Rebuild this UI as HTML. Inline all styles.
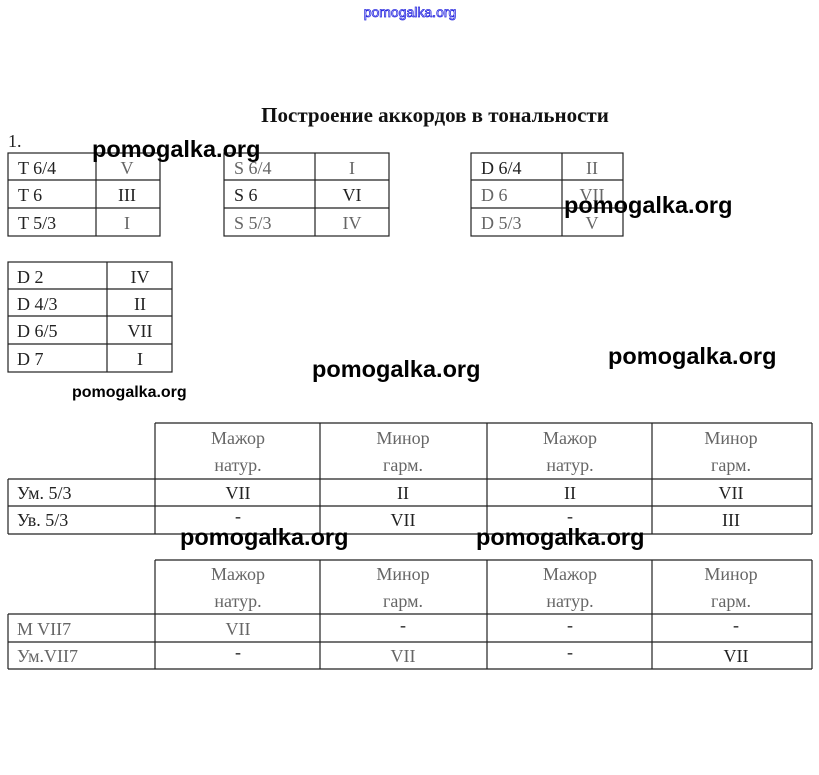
<!DOCTYPE html>
<html><head><meta charset="utf-8"><style>
html,body{margin:0;padding:0;background:#fff;}
svg{display:block}
.t{font-family:"Liberation Serif",serif;font-size:18px;fill:#222}
.g{fill:#666}
.w{font-family:"Liberation Sans","DejaVu Sans",sans-serif;font-size:23.5px;font-weight:bold;fill:#000}
</style></head><body>
<svg width="819" height="775" viewBox="0 0 819 775" xmlns="http://www.w3.org/2000/svg">
<text x="410" y="17" text-anchor="middle" font-family="Liberation Sans,sans-serif" font-size="14" fill="#fff" stroke="#2a2ae0" stroke-width="0.8">pomogalka.org</text>
<text x="435" y="122" text-anchor="middle" font-family="Liberation Serif,serif" font-weight="bold" font-size="21" fill="#111">Построение аккордов в тональности</text>
<text x="8" y="147" class="t">1.</text>
<g stroke="#222" stroke-width="1.2" fill="none">
<rect x="8" y="153" width="152" height="83"/><line x1="8" y1="180" x2="160" y2="180"/><line x1="8" y1="208" x2="160" y2="208"/><line x1="96" y1="153" x2="96" y2="236"/>
<rect x="224" y="153" width="165" height="83"/><line x1="224" y1="180" x2="389" y2="180"/><line x1="224" y1="208" x2="389" y2="208"/><line x1="315" y1="153" x2="315" y2="236"/>
<rect x="471" y="153" width="152" height="83"/><line x1="471" y1="180" x2="623" y2="180"/><line x1="471" y1="208" x2="623" y2="208"/><line x1="562" y1="153" x2="562" y2="236"/>
<rect x="8" y="262" width="164" height="110"/><line x1="8" y1="289" x2="172" y2="289"/><line x1="8" y1="316" x2="172" y2="316"/><line x1="8" y1="344" x2="172" y2="344"/><line x1="107" y1="262" x2="107" y2="372"/>
<line x1="155" y1="423" x2="812" y2="423"/><line x1="8" y1="479" x2="812" y2="479"/><line x1="8" y1="506" x2="812" y2="506"/><line x1="8" y1="534" x2="812" y2="534"/>
<line x1="8" y1="479" x2="8" y2="534"/><line x1="155" y1="423" x2="155" y2="534"/><line x1="320" y1="423" x2="320" y2="534"/><line x1="487" y1="423" x2="487" y2="534"/><line x1="652" y1="423" x2="652" y2="534"/><line x1="812" y1="423" x2="812" y2="534"/>
<line x1="155" y1="560" x2="812" y2="560"/><line x1="8" y1="614" x2="812" y2="614"/><line x1="8" y1="642" x2="812" y2="642"/><line x1="8" y1="669" x2="812" y2="669"/>
<line x1="8" y1="614" x2="8" y2="669"/><line x1="155" y1="560" x2="155" y2="669"/><line x1="320" y1="560" x2="320" y2="669"/><line x1="487" y1="560" x2="487" y2="669"/><line x1="652" y1="560" x2="652" y2="669"/><line x1="812" y1="560" x2="812" y2="669"/>
</g>
<g class="t">
<text x="18" y="174">T 6/4</text><text x="18" y="201">T 6</text><text x="18" y="229">T 5/3</text>
<text x="127" y="174" text-anchor="middle" class="t g">V</text><text x="127" y="201" text-anchor="middle">III</text><text x="127" y="229" text-anchor="middle" class="t g">I</text>
<text x="234" y="174" class="t g">S 6/4</text><text x="234" y="201">S 6</text><text x="234" y="229" class="t g">S 5/3</text>
<text x="352" y="174" text-anchor="middle" class="t g">I</text><text x="352" y="201" text-anchor="middle">VI</text><text x="352" y="229" text-anchor="middle" class="t g">IV</text>
<text x="481" y="174">D 6/4</text><text x="481" y="201" class="t g">D 6</text><text x="481" y="229" class="t g">D 5/3</text>
<text x="592" y="174" text-anchor="middle" class="t g">II</text><text x="592" y="201" text-anchor="middle" class="t g">VII</text><text x="592" y="229" text-anchor="middle" class="t g">V</text>
<text x="17" y="283">D 2</text><text x="17" y="310">D 4/3</text><text x="17" y="337">D 6/5</text><text x="17" y="365">D 7</text>
<text x="140" y="283" text-anchor="middle">IV</text><text x="140" y="310" text-anchor="middle">II</text><text x="140" y="337" text-anchor="middle">VII</text><text x="140" y="365" text-anchor="middle">I</text>
</g>
<g class="t g" text-anchor="middle">
<text x="238" y="444">Мажор</text><text x="238" y="471">натур.</text>
<text x="403" y="444">Минор</text><text x="403" y="471">гарм.</text>
<text x="570" y="444">Мажор</text><text x="570" y="471">натур.</text>
<text x="731" y="444">Минор</text><text x="731" y="471">гарм.</text>
<text x="238" y="580">Мажор</text><text x="238" y="607">натур.</text>
<text x="403" y="580">Минор</text><text x="403" y="607">гарм.</text>
<text x="570" y="580">Мажор</text><text x="570" y="607">натур.</text>
<text x="731" y="580">Минор</text><text x="731" y="607">гарм.</text>
</g>
<g class="t">
<text x="17" y="499">Ум. 5/3</text><text x="17" y="526">Ув. 5/3</text>
<text x="17" y="635" class="t g">M VII7</text><text x="17" y="662" class="t g">Ум.VII7</text>
</g>
<g class="t" text-anchor="middle">
<text x="238" y="499">VII</text><text x="403" y="499">II</text><text x="570" y="499">II</text><text x="731" y="499">VII</text>
<text x="238" y="522">-</text><text x="403" y="526">VII</text><text x="570" y="522">-</text><text x="731" y="526">III</text>
<text x="238" y="635" class="t g">VII</text><text x="403" y="631">-</text><text x="570" y="631">-</text><text x="736" y="631">-</text>
<text x="238" y="658">-</text><text x="403" y="662" class="t g">VII</text><text x="570" y="658">-</text><text x="736" y="662">VII</text>
</g>
<g class="w">
<text x="92" y="157">pomogalka.org</text>
<text x="564" y="213">pomogalka.org</text>
<text x="312" y="377">pomogalka.org</text>
<text x="608" y="364">pomogalka.org</text>
<text x="180" y="545">pomogalka.org</text>
<text x="476" y="545">pomogalka.org</text>
<text x="72" y="397" font-size="16">pomogalka.org</text>
</g>
</svg>
</body></html>
